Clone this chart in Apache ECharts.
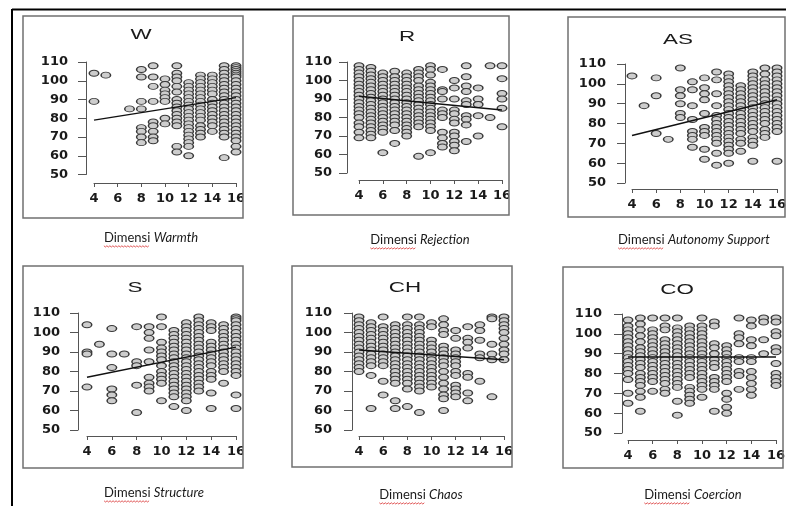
<!DOCTYPE html>
<html><head><meta charset="utf-8">
<script src="https://cdn.jsdelivr.net/npm/echarts@6/dist/echarts.min.js"></script>
<style>html,body{margin:0;padding:0;background:#fff}#c{width:786px;height:506px}</style>
</head><body><div id="c"></div>
<script>
// ---- data ----
const panelTitles = ['W', 'R', 'AS', 'S', 'CH', 'CO'];
const captionPrefix = 'Dimensi';
const captionWords = ['Warmth', 'Rejection', 'Autonomy Support', 'Structure', 'Chaos', 'Coercion'];
const xMin = 4, xMax = 16, xStep = 2;
const yMin = 50, yMax = 110, yStep = 10;

const warmthCols = [
  [4, [104, 89]], [5, [103]], [7, [85]],
  [8, [106, 102, 89, 85, 75, 73, 70, 67]],
  [9, [108, 102, 97, 89, 78, 76, 73, 70, 68]],
  [10, [101, 98, 95, 93, 91, 89, 80, 77]],
  [11, [108, 104, 102, 100, 97, 94, 90, 88, 86, 84, 82, 80, 78, 76, 65, 62]],
  [12, [99, 97, 95, 93, 91, 89, 87, 85, 83, 81, 79, 77, 75, 73, 71, 69, 67, 65, 60]],
  [13, [103, 101, 99, 97, 95, 93, 91, 89, 87, 85, 83, 81, 79, 76, 74, 72, 70]],
  [14, [103, 101, 99, 97, 95, 93, 90, 88, 86, 84, 82, 80, 78, 76, 73]],
  [15, [108, 106, 104, 102, 100, 98, 96, 94, 92, 90, 88, 86, 84, 82, 80, 78, 76, 74, 72, 70, 59]],
  [16, [108, 107, 106, 105, 104, 103, 102, 100, 98, 96, 94, 92, 90, 88, 86, 84, 82, 80, 78, 76, 74, 72, 70, 68, 65, 62]]
];
const rejectionCols = [
  [4, [108, 106, 104, 102, 100, 98, 96, 94, 92, 90, 88, 86, 84, 82, 80, 77, 75, 72, 69]],
  [5, [107, 105, 103, 101, 99, 97, 95, 93, 91, 89, 87, 85, 83, 81, 79, 77, 75, 73, 71, 69]],
  [6, [104, 102, 100, 98, 96, 94, 92, 90, 88, 86, 84, 82, 80, 78, 76, 74, 72, 61]],
  [7, [105, 102, 100, 98, 96, 94, 92, 90, 88, 86, 84, 82, 80, 78, 76, 73, 66]],
  [8, [104, 102, 100, 98, 96, 94, 92, 90, 88, 86, 84, 82, 80, 78, 76, 74, 72, 70]],
  [9, [106, 104, 102, 100, 97, 95, 93, 91, 89, 87, 85, 83, 81, 79, 77, 75, 59]],
  [10, [108, 106, 103, 99, 97, 95, 93, 91, 89, 87, 85, 83, 81, 79, 77, 75, 73, 61]],
  [11, [106, 95, 94, 90, 84, 82, 80, 72, 69, 66, 64]],
  [12, [100, 96, 90, 84, 82, 79, 77, 72, 70, 67, 65, 62]],
  [13, [108, 102, 97, 94, 89, 87, 81, 79, 76, 67]],
  [14, [96, 90, 87, 81, 70]],
  [15, [108, 80]],
  [16, [108, 101, 93, 90, 85, 75]]
];
const autonomyCols = [
  [4, [104]], [5, [89]], [6, [103, 94, 75]], [7, [72]],
  [8, [108, 97, 94, 90, 85, 83]],
  [9, [101, 97, 89, 82, 76, 74, 72, 68]],
  [10, [103, 98, 95, 92, 85, 78, 76, 74, 67, 62]],
  [11, [106, 102, 95, 89, 84, 82, 80, 78, 76, 74, 72, 70, 65, 59]],
  [12, [105, 103, 101, 99, 97, 95, 93, 91, 89, 87, 85, 83, 81, 79, 77, 75, 73, 71, 69, 67, 65, 60]],
  [13, [99, 97, 95, 93, 91, 89, 87, 85, 83, 81, 79, 77, 75, 72, 70, 66]],
  [14, [106, 104, 102, 100, 98, 96, 94, 92, 90, 88, 86, 84, 82, 80, 78, 76, 73, 71, 69, 61]],
  [15, [108, 105, 102, 100, 98, 96, 94, 92, 90, 88, 86, 84, 82, 80, 77, 75, 73]],
  [16, [108, 106, 104, 102, 100, 98, 96, 94, 92, 90, 88, 86, 84, 82, 80, 78, 76, 61]]
];
const structureCols = [
  [4, [104, 90, 89, 72]], [5, [94]],
  [6, [102, 89, 82, 71, 68, 65]], [7, [89]],
  [8, [103, 85, 83, 73, 59]],
  [9, [103, 100, 97, 91, 85, 77, 74, 72, 70]],
  [10, [108, 103, 95, 92, 90, 88, 86, 83, 80, 78, 76, 74, 65]],
  [11, [101, 99, 97, 95, 93, 91, 89, 87, 85, 83, 81, 79, 77, 75, 73, 71, 69, 67, 62]],
  [12, [105, 103, 101, 99, 97, 95, 93, 91, 89, 87, 85, 83, 81, 79, 77, 75, 73, 71, 69, 67, 65, 60]],
  [13, [108, 106, 104, 102, 100, 98, 96, 94, 92, 90, 88, 86, 84, 82, 80, 78, 76, 74, 72, 70]],
  [14, [105, 103, 101, 95, 93, 91, 89, 87, 85, 83, 80, 78, 76, 69, 61]],
  [15, [104, 102, 100, 98, 96, 94, 92, 90, 88, 86, 84, 82, 80, 74]],
  [16, [108, 107, 106, 104, 102, 100, 98, 96, 94, 92, 90, 88, 86, 84, 82, 80, 78, 68, 61]]
];
const chaosCols = [
  [4, [108, 106, 104, 102, 100, 98, 96, 94, 92, 90, 88, 86, 84, 82, 80]],
  [5, [105, 103, 101, 99, 97, 95, 93, 91, 89, 87, 85, 83, 78, 61]],
  [6, [108, 103, 101, 99, 97, 95, 93, 91, 89, 87, 85, 83, 75, 68]],
  [7, [104, 102, 100, 98, 96, 94, 92, 90, 88, 86, 84, 82, 80, 78, 76, 74, 65, 61]],
  [8, [108, 104, 102, 100, 98, 96, 94, 92, 90, 88, 86, 84, 82, 80, 78, 76, 74, 71, 62]],
  [9, [108, 104, 102, 100, 98, 96, 94, 92, 90, 88, 86, 84, 82, 80, 78, 76, 74, 72, 70, 59]],
  [10, [105, 103, 96, 94, 92, 90, 88, 86, 84, 82, 80, 78, 76, 74, 72]],
  [11, [107, 104, 101, 99, 93, 91, 89, 87, 85, 83, 80, 77, 74, 71, 68, 66, 60]],
  [12, [101, 97, 91, 89, 87, 85, 83, 80, 78, 73, 71, 69, 67]],
  [13, [103, 97, 95, 92, 79, 77, 69, 65]],
  [14, [104, 101, 96, 89, 87, 75]],
  [15, [108, 107, 94, 89, 86, 67]],
  [16, [108, 106, 104, 102, 100, 97, 94, 91, 89, 86]]
];
const coercionCols = [
  [4, [107, 104, 102, 100, 98, 96, 94, 92, 90, 88, 86, 84, 82, 80, 77, 70, 65]],
  [5, [108, 105, 102, 99, 96, 93, 91, 89, 87, 85, 83, 80, 78, 76, 74, 71, 68, 61]],
  [6, [108, 102, 100, 98, 96, 94, 92, 90, 88, 86, 84, 82, 80, 78, 76, 71]],
  [7, [108, 104, 102, 97, 95, 93, 91, 89, 87, 85, 83, 81, 79, 77, 75, 72, 70]],
  [8, [108, 103, 101, 99, 97, 95, 93, 91, 89, 87, 85, 83, 81, 79, 77, 75, 73, 66, 59]],
  [9, [104, 102, 100, 98, 96, 94, 92, 90, 88, 86, 84, 82, 80, 78, 73, 71, 69, 67, 65]],
  [10, [108, 104, 102, 100, 98, 96, 94, 92, 90, 88, 86, 84, 82, 80, 78, 76, 74, 72, 68]],
  [11, [106, 104, 95, 93, 90, 87, 85, 83, 78, 76, 74, 72, 61]],
  [12, [94, 92, 90, 88, 86, 84, 82, 80, 78, 76, 70, 67, 63, 60]],
  [13, [108, 100, 98, 95, 88, 86, 81, 79, 72]],
  [14, [107, 104, 97, 94, 88, 86, 81, 78, 75, 72, 69]],
  [15, [108, 106, 97, 90]],
  [16, [108, 106, 101, 99, 93, 91, 85, 80, 78, 76, 74]]
];
// fitted regression lines (end points)
const warmthFit = [[4, 79], [16, 91]];
const rejectionFit = [[4, 91.5], [16, 84]];
const autonomyFit = [[4, 74], [16, 92]];
const structureFit = [[4, 77], [16, 92.5]];
const chaosFit = [[4, 91], [16, 86]];
const coercionFit = [[4, 88.3], [16, 88.3]];

const panelCols = [warmthCols, rejectionCols, autonomyCols, structureCols, chaosCols, coercionCols];
const panelFits = [warmthFit, rejectionFit, autonomyFit, structureFit, chaosFit, coercionFit];

// ---- layout (pixels) ----
const layout = [
  { g: [94, 62, 142, 112.5], xo: 8.5, yo: 8, lm: 18, box: [23, 16, 220, 202], t: [141, 35], c: [151, 238] },
  { g: [359, 62, 143, 111], xo: 7, yo: 12, lm: 15, box: [293, 16, 216, 199], t: [407, 37], c: [420, 240] },
  { g: [632, 64, 145, 119], xo: 6, yo: 7, lm: 19, box: [568, 17, 217, 200], t: [678, 40], c: [694, 240] },
  { g: [87, 313, 149, 117], xo: 6, yo: 9, lm: 18, box: [23, 266, 220, 202], t: [135, 288], c: [154, 493] },
  { g: [359, 313, 145, 117], xo: 6, yo: 7, lm: 20, box: [292, 266, 220, 201], t: [405, 288], c: [421, 495] },
  { g: [628, 314, 148, 119], xo: 7, yo: 6, lm: 20, box: [563, 267, 220, 201], t: [677, 290], c: [693, 495] }
];

const axisColor = '#555';
const labelFont = { color: '#1a1a1a', fontSize: 13, fontWeight: 'bold', fontFamily: '"DejaVu Sans", sans-serif' };
const capFont = '13px Lato, "Open Sans", sans-serif';
const capFontIt = 'italic 13px Lato, "Open Sans", sans-serif';

const mctx = document.createElement('canvas').getContext('2d');
function textW(t, f) { mctx.font = f; return mctx.measureText(t).width; }

const grids = [], xAxes = [], yAxes = [], series = [], graphics = [];

// outer frame lines
graphics.push({ type: 'line', z: 200, shape: { x1: 12, y1: 9.5, x2: 786, y2: 9.5 }, style: { stroke: '#000', lineWidth: 2 } });
graphics.push({ type: 'line', z: 200, shape: { x1: 12, y1: 9, x2: 12, y2: 506 }, style: { stroke: '#000', lineWidth: 2 } });

layout.forEach((L, i) => {
  grids.push({ left: L.g[0], top: L.g[1], width: L.g[2], height: L.g[3], containLabel: false, outerBoundsMode: 'none' });
  xAxes.push({
    gridIndex: i, type: 'value', min: xMin, max: xMax, interval: xStep, offset: L.xo,
    axisLine: { show: true, onZero: false, lineStyle: { color: axisColor, width: 1 } },
    axisTick: { show: true, length: 4, lineStyle: { color: axisColor, width: 1 } },
    axisLabel: Object.assign({ margin: 9, showMinLabel: true, showMaxLabel: true, hideOverlap: false }, labelFont),
    splitLine: { show: false }
  });
  yAxes.push({
    gridIndex: i, type: 'value', min: yMin, max: yMax, interval: yStep, offset: L.yo,
    axisLine: { show: true, onZero: false, lineStyle: { color: axisColor, width: 1 } },
    axisTick: { show: true, length: 8, lineStyle: { color: axisColor, width: 1 } },
    axisLabel: Object.assign({ margin: L.lm, showMinLabel: true, showMaxLabel: true, hideOverlap: false }, labelFont),
    splitLine: { show: false }
  });
  const pts = [];
  panelCols[i].forEach(([x, ys]) => ys.forEach(y => pts.push([x, y])));
  series.push({
    type: 'scatter', xAxisIndex: i, yAxisIndex: i, data: pts, symbol: 'circle', symbolSize: [9.5, 6],
    itemStyle: { color: '#cdcdcd', borderColor: '#383838', borderWidth: 1.2, opacity: 1 }, z: 2, silent: true
  });
  series.push({
    type: 'line', xAxisIndex: i, yAxisIndex: i, data: panelFits[i], symbol: 'none',
    lineStyle: { color: '#111', width: 1.5 }, z: 3, silent: true
  });

  const [bx, by, bw, bh] = L.box;
  // white mask that clips the last x label at the panel border, like the reference
  if (bx + bw < 780) {
    graphics.push({ type: 'rect', z: 150, shape: { x: bx + bw, y: L.g[1] + L.g[3] + L.xo + 3, width: 30, height: 24 }, style: { fill: '#fff' } });
  }
  graphics.push({ type: 'rect', z: 160, shape: { x: bx, y: by, width: bw, height: bh }, style: { fill: null, stroke: '#707070', lineWidth: 1.5 } });
  // panel title
  graphics.push({
    type: 'text', z: 160, x: L.t[0], y: L.t[1], scaleX: 1.6, scaleY: 1,
    style: { text: panelTitles[i], font: '14px "Liberation Sans", Arial, sans-serif', fill: '#1a1a1a',
      align: 'center', verticalAlign: 'middle', textAlign: 'center', textVerticalAlign: 'middle' }
  });
  // caption
  const w1 = textW(captionPrefix + ' ', capFont), w2 = textW(captionWords[i], capFontIt);
  const left = L.c[0] - (w1 + w2) / 2;
  graphics.push({
    type: 'text', z: 160, x: left, y: L.c[1],
    style: {
      text: '{a|' + captionPrefix + ' }{b|' + captionWords[i] + '}', font: capFont, fill: '#1a1a1a',
      align: 'left', verticalAlign: 'middle', textAlign: 'left', textVerticalAlign: 'middle',
      rich: { a: { font: capFont, fill: '#1a1a1a', color: '#1a1a1a' }, b: { font: capFontIt, fill: '#1a1a1a', color: '#1a1a1a' } }
    }
  });
  // red spell-check squiggle under the prefix
  const wp = textW(captionPrefix, capFont), sq = [];
  for (let k = 0; k * 1.5 <= wp; k++) sq.push([left + k * 1.5, L.c[1] + 8 + (k % 2 ? 1 : -0.2)]);
  graphics.push({ type: 'polyline', z: 160, shape: { points: sq }, style: { stroke: '#d83030', lineWidth: 0.8, fill: null } });
});

const chart = echarts.init(document.getElementById('c'), null, { renderer: 'canvas' });
chart.setOption({
  animation: false,
  backgroundColor: '#fff',
  grid: grids, xAxis: xAxes, yAxis: yAxes, series: series,
  graphic: { elements: graphics }
});
</script></body></html>
